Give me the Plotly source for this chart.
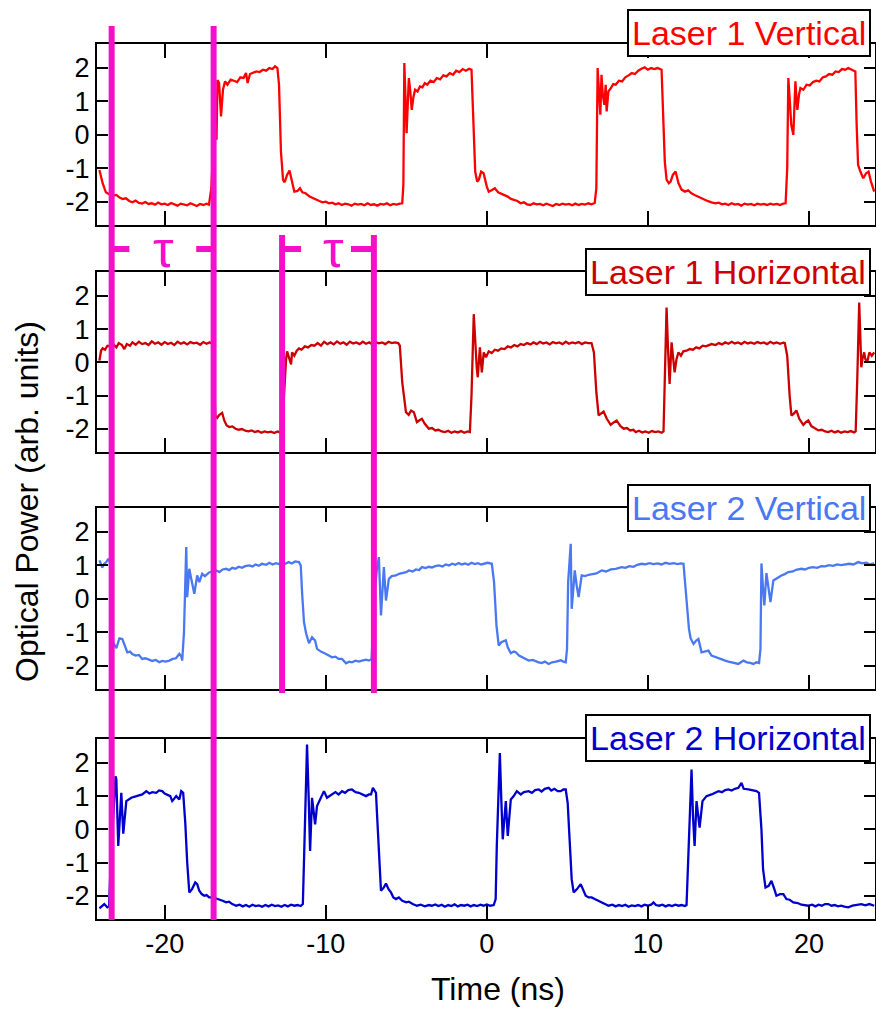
import plotly.graph_objects as go

# ---------------- data (time in ns, optical power in arb. units) ----------------
t_l1v = [-24.05,-23.85,-23.65,-23.45,-23.2,-23.0,-22.8,-22.6,-22.4,-22.2,-22.0,-21.8,-21.6,-21.4,-21.2,-21.0,
         -20.8,-20.6,-20.4,-20.2,-20.0,-19.8,-19.6,-19.4,-19.2,-19.0,-18.8,-18.6,-18.4,-18.2,-18.0,-17.8,-17.6,
         -17.4,-17.25,-17.1,-16.95,-16.85,-16.78,-16.72,-16.62,-16.5,-16.38,-16.25,-16.1,-15.9,-15.7,-15.5,-15.3,
         -15.1,-14.95,-14.85,-14.7,-14.5,-14.3,-14.1,-13.9,-13.7,-13.5,-13.3,-13.15,-13.0,-12.9,-12.78,-12.65,
         -12.55,-12.4,-12.25,-12.1,-11.95,-11.75,-11.6,-11.45,-11.25,-11.0,-10.8,-10.6,-10.4,-10.2,-10.0,-9.8,
         -9.6,-9.4,-9.2,-9.0,-8.8,-8.6,-8.4,-8.2,-8.0,-7.8,-7.6,-7.4,-7.2,-7.0,-6.8,-6.6,-6.4,-6.2,-6.0,-5.8,
         -5.6,-5.4,-5.25,-5.18,-5.12,-5.04,-4.98,-4.9,-4.84,-4.75,-4.66,-4.55,-4.45,-4.3,-4.15,-4.0,-3.85,-3.7,
         -3.5,-3.3,-3.1,-2.9,-2.7,-2.5,-2.3,-2.1,-1.9,-1.7,-1.5,-1.3,-1.1,-0.95,-0.85,-0.72,-0.6,-0.5,-0.35,
         -0.2,0.0,0.12,0.3,0.5,0.7,0.9,1.1,1.3,1.5,1.7,1.9,2.1,2.3,2.5,2.7,2.9,3.1,3.3,3.5,3.7,3.9,4.1,4.3,
         4.5,4.7,4.9,5.1,5.3,5.5,5.7,5.9,6.1,6.3,6.5,6.7,6.8,6.88,6.97,7.05,7.12,7.2,7.3,7.38,7.44,7.55,7.7,
         7.85,8.0,8.2,8.4,8.6,8.8,9.0,9.2,9.4,9.6,9.8,10.0,10.2,10.4,10.6,10.85,10.95,11.05,11.16,11.3,11.41,
         11.55,11.72,11.9,12.09,12.3,12.5,12.7,12.9,13.1,13.3,13.5,13.7,13.95,14.2,14.4,14.6,14.8,15.0,15.2,
         15.4,15.6,15.8,16.0,16.2,16.4,16.6,16.8,17.0,17.2,17.4,17.6,17.8,18.0,18.2,18.4,18.55,18.65,18.72,
         18.8,18.9,19.03,19.1,19.16,19.22,19.28,19.38,19.47,19.65,19.85,20.05,20.25,20.45,20.65,20.85,21.05,
         21.25,21.45,21.65,21.85,22.05,22.25,22.44,22.7,22.88,22.96,23.05,23.19,23.37,23.55,23.7,23.85,24.05]
y_l1v = [-1.05,-1.45,-1.72,-1.78,-1.82,-1.80,-1.88,-1.92,-1.90,-1.98,-2.02,-1.97,-2.04,-2.06,-2.01,-2.07,
         -2.05,-2.09,-2.03,-2.08,-2.06,-2.10,-2.04,-2.09,-2.12,-2.06,-2.08,-2.11,-2.05,-2.09,-2.13,-2.07,-2.10,
         -2.06,-2.09,-1.6,0.2,1.0,-0.15,1.64,1.55,0.55,1.35,1.6,1.5,1.65,1.62,1.58,1.72,
         1.70,1.85,1.55,1.82,1.86,1.90,1.88,1.95,1.92,2.0,1.97,2.05,2.0,1.5,-0.5,-1.35,
         -1.42,-1.2,-1.07,-1.35,-1.70,-1.68,-1.60,-1.72,-1.75,-1.85,-1.90,-1.95,-1.98,-2.02,-2.00,-2.05,
         -2.03,-2.08,-2.05,-2.10,-2.06,-2.08,-2.12,-2.06,-2.09,-2.07,-2.11,-2.05,-2.10,-2.08,-2.12,-2.07,-2.09,-2.05,-2.11,-2.07,
         -2.09,-2.06,-2.05,-1.5,2.15,1.0,0.05,1.0,1.7,1.3,0.75,1.15,1.35,1.30,1.45,1.42,1.55,1.50,
         1.62,1.58,1.70,1.66,1.78,1.75,1.85,1.80,1.92,1.88,1.97,1.92,1.98,1.95,0.5,-1.1,-1.4,-1.35,-1.1,
         -1.15,-1.55,-1.70,-1.66,-1.60,-1.72,-1.76,-1.82,-1.85,-1.92,-1.95,-1.98,-2.05,-2.02,-2.08,-2.10,-2.05,-2.08,-2.07,-2.11,-2.06,-2.09,-2.13,-2.07,
         -2.10,-2.06,-2.09,-2.07,-2.11,-2.06,-2.10,-2.07,-2.09,-2.05,-2.08,-2.04,-1.6,2.0,1.0,0.6,1.8,1.2,0.9,1.5,0.7,1.3,1.40,
         1.52,1.50,1.62,1.60,1.72,1.78,1.85,1.82,1.92,1.98,2.02,1.95,2.0,1.97,2.0,1.95,0.5,-0.8,-1.34,-1.45,-1.4,
         -1.2,-1.1,-1.45,-1.64,-1.70,-1.66,-1.75,-1.80,-1.85,-1.90,-1.93,-1.98,-2.02,-2.05,-2.03,-2.08,-2.06,-2.10,-2.05,
         -2.09,-2.07,-2.12,-2.06,-2.09,-2.07,-2.11,-2.06,-2.09,-2.07,-2.10,-2.06,-2.09,-2.07,-2.10,-2.06,-2.05,-1.0,1.7,
         1.1,0.3,0.0,1.0,1.6,1.1,0.75,1.2,1.40,1.35,1.50,1.48,1.58,1.62,1.60,1.72,1.75,
         1.82,1.80,1.90,1.88,1.97,1.95,2.0,1.93,1.9,0.3,-0.9,-1.1,-1.3,-1.15,-1.1,-1.4,-1.7]

t_l1h = [-24.05,-23.95,-23.85,-23.7,-23.55,-23.4,-23.2,-23.0,-22.85,-22.65,-22.5,-22.35,-22.15,-22.0,-21.8,
         -21.6,-21.4,-21.2,-21.0,-20.8,-20.6,-20.4,-20.2,-20.0,-19.8,-19.6,-19.4,-19.2,-19.0,-18.8,-18.6,-18.4,
         -18.2,-18.0,-17.8,-17.6,-17.4,-17.2,-17.05,-16.95,-16.85,-16.74,-16.6,-16.43,-16.3,-16.15,-15.99,-15.8,
         -15.6,-15.4,-15.2,-15.0,-14.8,-14.6,-14.4,-14.2,-14.0,-13.8,-13.6,-13.4,-13.2,-13.0,-12.85,-12.72,
         -12.62,-12.52,-12.46,-12.40,-12.28,-12.15,-12.09,-11.95,-11.8,-11.66,-11.5,-11.3,-11.1,-10.9,-10.7,
         -10.5,-10.3,-10.1,-9.9,-9.7,-9.5,-9.3,-9.1,-8.9,-8.7,-8.5,-8.3,-8.1,-7.9,-7.7,-7.5,-7.3,-7.1,-6.9,
         -6.7,-6.5,-6.3,-6.1,-5.9,-5.7,-5.5,-5.4,-5.25,-5.1,-5.02,-4.85,-4.7,-4.53,-4.34,-4.2,-4.03,-3.85,-3.6,
         -3.4,-3.2,-3.0,-2.8,-2.6,-2.4,-2.2,-2.0,-1.8,-1.6,-1.4,-1.2,-1.05,-0.95,-0.81,-0.72,-0.62,-0.56,-0.48,
         -0.43,-0.36,-0.31,-0.25,-0.19,-0.05,0.12,0.3,0.5,0.7,0.9,1.1,1.3,1.5,1.7,1.9,2.1,2.3,2.5,2.7,2.9,
         3.1,3.3,3.5,3.7,3.9,4.1,4.3,4.5,4.7,4.9,5.1,5.3,5.5,5.7,5.9,6.1,6.3,6.5,6.65,6.8,6.94,7.1,7.25,7.45,
         7.69,7.9,8.06,8.3,8.5,8.7,8.9,9.1,9.24,9.45,9.65,9.85,10.05,10.25,10.45,10.65,10.85,10.97,11.07,11.16,
         11.25,11.35,11.47,11.58,11.66,11.78,11.9,12.05,12.2,12.4,12.6,12.8,13.0,13.2,13.4,13.6,13.95,14.2,14.4,
         14.6,14.8,15.0,15.2,15.4,15.6,15.8,16.0,16.2,16.4,16.6,16.8,17.0,17.2,17.4,17.6,17.8,18.0,18.2,18.4,
         18.5,18.65,18.8,18.91,19.05,19.22,19.4,19.65,19.8,19.96,20.15,20.35,20.58,20.8,21.0,21.2,21.4,21.6,
         21.8,22.0,22.2,22.4,22.6,22.8,22.9,23.0,23.12,23.2,23.25,23.32,23.43,23.5,23.62,23.75,23.9,24.05]
y_l1h = [0.05,0.35,0.42,0.38,0.50,0.48,0.55,0.45,0.58,0.52,0.40,0.55,0.50,0.60,0.53,
         0.62,0.55,0.58,0.52,0.63,0.56,0.60,0.53,0.61,0.55,0.59,0.52,0.62,0.56,0.60,0.54,0.61,
         0.57,0.59,0.53,0.61,0.56,0.60,0.55,-0.8,-1.6,-1.67,-1.58,-1.52,-1.75,-1.90,-1.95,-1.93,
         -2.0,-2.03,-2.01,-2.06,-2.08,-2.05,-2.10,-2.07,-2.12,-2.08,-2.11,-2.09,-2.13,-2.08,-2.11,-2.1,
         -1.2,-0.5,0.1,0.33,0.1,-0.06,0.3,0.2,0.35,0.42,0.38,0.48,0.45,0.52,0.50,
         0.58,0.50,0.62,0.55,0.60,0.54,0.63,0.56,0.60,0.53,0.62,0.57,0.60,0.55,0.62,0.56,0.60,0.54,0.61,
         0.57,0.60,0.55,0.62,0.58,0.60,0.58,0.5,-0.6,-1.3,-1.5,-1.58,-1.45,-1.5,-1.8,-1.75,-1.7,-1.85,-2.0,
         -1.98,-2.05,-2.03,-2.08,-2.10,-2.06,-2.12,-2.08,-2.11,-2.07,-2.12,-2.08,-2.10,-1.0,1.45,0.5,-0.2,-0.45,0.2,
         0.45,0.0,-0.3,0.0,0.3,0.15,0.33,0.28,0.38,0.35,0.42,0.40,0.48,0.45,0.52,0.48,0.55,0.52,0.58,0.54,0.60,
         0.55,0.62,0.57,0.60,0.54,0.61,0.57,0.60,0.55,0.62,0.56,0.60,0.57,0.61,0.55,0.60,0.58,0.58,0.3,-0.9,-1.6,-1.55,-1.48,-1.7,
         -1.88,-1.8,-1.75,-1.92,-2.0,-1.98,-2.05,-2.03,-2.10,-2.06,-2.11,-2.08,-2.12,-2.07,-2.10,-2.08,-2.12,-2.08,-0.5,1.65,
         0.4,-0.65,0.6,0.0,-0.3,0.1,0.3,0.2,0.33,0.35,0.40,0.38,0.45,0.42,0.50,0.48,0.55,0.52,0.58,
         0.54,0.60,0.56,0.62,0.57,0.60,0.55,0.62,0.57,0.60,0.56,0.61,0.57,0.60,0.55,0.62,0.57,0.60,0.56,0.59,
         0.58,0.2,-1.0,-1.6,-1.55,-1.45,-1.7,-1.88,-1.80,-1.75,-1.92,-1.98,-2.05,-2.03,-2.08,-2.10,-2.06,-2.11,
         -2.07,-2.12,-2.08,-2.10,-2.07,-2.11,-2.08,-0.5,1.8,0.6,-0.15,0.1,0.3,0.1,0.0,0.3,0.2,0.3]

t_l2v = [-24.05,-23.87,-23.75,-23.62,-23.5,-23.4,-23.3,-23.2,-23.0,-22.81,-22.63,-22.45,-22.32,-22.15,-22.01,
         -21.8,-21.6,-21.39,-21.2,-20.97,-20.77,-20.55,-20.33,-20.15,-19.95,-19.71,-19.5,-19.3,-19.09,-18.97,
         -18.91,-18.80,-18.72,-18.66,-18.60,-18.47,-18.35,-18.16,-17.98,-17.85,-17.67,-17.5,-17.24,-17.0,-16.8,
         -16.6,-16.4,-16.18,-16.0,-15.8,-15.6,-15.4,-15.2,-15.0,-14.75,-14.55,-14.35,-14.15,-13.95,-13.70,-13.5,
         -13.3,-13.1,-12.9,-12.7,-12.5,-12.3,-12.1,-11.9,-11.66,-11.55,-11.47,-11.35,-11.22,-11.04,-10.85,-10.66,
         -10.54,-10.3,-9.98,-9.8,-9.61,-9.4,-9.2,-8.99,-8.74,-8.55,-8.37,-8.15,-7.94,-7.75,-7.5,-7.32,-7.15,-7.0,
         -6.82,-6.70,-6.57,-6.39,-6.26,-6.08,-5.9,-5.64,-5.45,-5.2,-5.0,-4.84,-4.6,-4.4,-4.2,-4.03,-3.8,-3.6,
         -3.4,-3.2,-2.98,-2.75,-2.55,-2.35,-2.15,-1.95,-1.75,-1.55,-1.35,-1.15,-0.95,-0.75,-0.55,-0.35,-0.15,
         0.05,0.31,0.45,0.6,0.74,0.9,1.18,1.3,1.49,1.67,1.80,2.0,2.17,2.4,2.60,2.85,3.05,3.22,3.41,3.6,3.84,
         4.05,4.3,4.59,4.75,4.90,4.98,5.05,5.21,5.27,5.39,5.46,5.58,5.70,5.89,6.1,6.32,6.55,6.8,7.13,7.4,7.7,
         8.0,8.37,8.6,8.85,9.1,9.35,9.61,9.85,10.1,10.35,10.6,10.85,11.1,11.35,11.6,11.85,12.05,12.21,12.4,
         12.55,12.65,12.83,13.0,13.14,13.33,13.55,13.76,13.95,14.2,14.4,14.57,14.8,15.0,15.19,15.4,15.62,15.93,
         16.15,16.35,16.55,16.74,16.9,16.99,17.05,17.15,17.23,17.36,17.5,17.61,17.79,18.0,18.29,18.5,18.72,19.0,
         19.2,19.53,19.75,20.0,20.25,20.5,20.77,21.0,21.25,21.5,21.75,22.0,22.26,22.5,22.75,23.06,23.3,23.55,
         23.8,24.05]
y_l2v = [1.15,0.94,1.05,1.10,1.20,1.1,-0.5,-1.3,-1.48,-1.18,-1.20,-1.45,-1.60,-1.58,-1.65,
         -1.70,-1.68,-1.80,-1.78,-1.82,-1.86,-1.83,-1.90,-1.86,-1.88,-1.85,-1.80,-1.78,-1.65,-1.72,
         -1.85,-1.0,0.5,1.55,0.05,0.9,0.6,0.15,0.70,0.50,0.75,0.68,0.79,0.82,0.85,
         0.80,0.88,0.90,0.86,0.93,0.90,0.96,0.93,0.98,1.00,0.97,1.03,0.99,1.05,1.02,1.08,
         1.03,1.07,1.04,1.09,1.05,1.10,1.06,1.12,1.10,1.0,0.2,-0.7,-1.03,-1.33,-1.15,-1.25,
         -1.50,-1.58,-1.65,-1.70,-1.75,-1.73,-1.80,-1.80,-1.93,-1.88,-1.90,-1.85,-1.88,-1.85,-1.82,-1.85,-1.80,0.0,
         0.9,1.25,-0.5,0.95,-0.05,0.6,0.68,0.70,0.75,0.78,0.80,0.85,0.82,0.88,0.86,0.95,0.92,0.96,
         0.94,0.98,1.00,0.97,1.03,1.00,1.05,1.02,1.07,1.03,1.06,1.02,1.08,1.04,1.07,1.03,1.06,
         1.08,1.05,0.5,-0.8,-1.40,-1.30,-1.24,-1.45,-1.63,-1.58,-1.60,-1.70,-1.75,-1.80,-1.85,-1.83,-1.88,-1.90,-1.92,-1.88,-1.95,
         -1.90,-1.88,-1.84,-1.88,-1.90,-1.5,0.5,1.65,-0.3,0.4,0.85,0.4,0.05,0.70,0.68,0.72,0.74,0.76,0.85,0.82,0.88,
         0.90,0.95,0.93,0.98,0.96,1.02,1.05,1.03,1.07,1.04,1.06,1.03,1.08,1.05,1.07,1.04,1.06,1.05,0.0,
         -0.9,-1.18,-1.35,-1.25,-1.20,-1.60,-1.57,-1.55,-1.70,-1.75,-1.78,-1.80,-1.85,-1.88,-1.90,-1.92,-1.95,-1.85,
         -1.90,-1.92,-1.95,-1.90,-1.92,-1.5,1.06,0.3,-0.2,0.77,0.3,-0.1,0.55,0.62,0.70,0.74,0.80,0.82,
         0.87,0.90,0.88,0.93,0.95,0.93,0.98,0.97,1.01,0.99,1.03,1.01,1.03,1.05,1.03,1.10,1.06,1.08,
         1.03,1.06]

t_l2h = [-24.05,-23.85,-23.75,-23.56,-23.45,-23.35,-23.2,-23.05,-23.0,-22.88,-22.69,-22.57,-22.38,-22.2,-22.07,
         -21.9,-21.76,-21.55,-21.39,-21.14,-20.95,-20.77,-20.52,-20.35,-20.15,-20.0,-19.84,-19.65,-19.53,-19.4,
         -19.28,-19.09,-18.97,-18.85,-18.72,-18.6,-18.47,-18.3,-18.1,-17.98,-17.85,-17.7,-17.54,-17.4,-17.24,
         -17.0,-16.8,-16.62,-16.4,-16.18,-16.0,-15.8,-15.56,-15.35,-15.15,-14.95,-14.75,-14.55,-14.35,-14.15,
         -13.95,-13.75,-13.55,-13.35,-13.15,-12.95,-12.75,-12.55,-12.35,-12.15,-11.95,-11.75,-11.55,-11.42,
         -11.35,-11.25,-11.16,-11.05,-10.97,-10.85,-10.75,-10.66,-10.54,-10.4,-10.29,-10.11,-9.92,-9.75,-9.61,
         -9.4,-9.2,-8.99,-8.8,-8.6,-8.37,-8.15,-7.94,-7.75,-7.5,-7.32,-7.19,-7.07,-6.88,-6.82,-6.7,-6.57,-6.39,
         -6.26,-6.1,-5.95,-5.8,-5.64,-5.46,-5.25,-5.0,-4.84,-4.6,-4.34,-4.1,-3.85,-3.6,-3.41,-3.2,-3.0,-2.8,
         -2.6,-2.4,-2.2,-2.0,-1.8,-1.6,-1.4,-1.2,-1.0,-0.8,-0.6,-0.4,-0.2,0.0,0.2,0.43,0.55,0.62,0.72,0.81,
         0.9,0.99,1.18,1.30,1.49,1.67,1.86,2.0,2.11,2.3,2.60,2.8,3.0,3.22,3.4,3.6,3.84,4.0,4.2,4.4,4.59,4.75,
         4.90,5.02,5.15,5.27,5.39,5.6,5.83,6.0,6.14,6.32,6.51,6.7,6.94,7.2,7.56,7.8,8.0,8.2,8.4,8.6,8.8,9.0,
         9.2,9.4,9.6,9.8,10.0,10.2,10.35,10.5,10.7,10.9,11.1,11.3,11.5,11.7,11.9,12.1,12.3,12.40,12.5,12.6,
         12.71,12.8,12.90,13.02,13.12,13.21,13.39,13.64,13.95,14.15,14.38,14.6,14.8,15.0,15.2,15.4,15.62,15.81,
         15.95,16.24,16.5,16.74,16.9,17.05,17.15,17.30,17.5,17.67,17.85,17.98,18.2,18.41,18.6,18.8,19.03,19.3,
         19.53,19.96,20.2,20.4,20.6,20.8,21.0,21.20,21.4,21.6,21.8,22.0,22.2,22.44,22.7,22.9,23.25,23.5,23.75,
         24.05]
y_l2h = [-2.38,-2.30,-2.25,-2.35,-2.32,-1.0,0.5,1.6,1.5,-0.5,1.1,-0.13,0.85,0.92,0.95,
         0.98,1.00,1.03,1.05,1.15,1.08,1.12,1.10,1.17,1.15,1.08,1.05,1.0,0.85,0.95,
         1.00,0.90,1.15,1.10,0.2,-1.0,-1.90,-1.80,-1.60,-1.65,-1.85,-1.95,-2.00,-1.98,-2.05,
         -2.05,-2.08,-2.10,-2.15,-2.20,-2.18,-2.25,-2.30,-2.27,-2.32,-2.28,-2.33,-2.27,-2.31,-2.29,
         -2.33,-2.28,-2.32,-2.27,-2.31,-2.29,-2.33,-2.28,-2.32,-2.27,-2.30,-2.28,-2.31,-2.25,
         -1.0,1.2,2.55,0.8,-0.65,0.95,0.5,0.15,0.70,0.85,0.95,1.15,0.95,1.0,1.05,
         1.12,1.05,1.15,1.10,1.18,1.20,1.12,1.10,1.05,1.00,1.05,1.05,1.25,1.10,0.5,-0.8,-1.85,-1.75,
         -1.63,-1.80,-1.90,-2.05,-2.10,-2.05,-2.15,-2.20,-2.18,-2.25,-2.30,-2.27,-2.32,-2.28,-2.30,-2.26,-2.31,-2.27,
         -2.33,-2.28,-2.31,-2.26,-2.32,-2.28,-2.30,-2.27,-2.32,-2.28,-2.31,-2.27,-2.30,-2.26,-2.30,-2.28,-2.1,-0.5,1.0,2.3,
         0.9,-0.3,0.85,-0.2,0.9,1.00,1.15,1.08,1.05,1.12,1.15,1.10,1.18,1.20,1.14,1.22,1.25,1.17,1.22,1.15,1.15,1.20,
         1.20,0.8,-0.6,-1.5,-1.90,-1.80,-1.65,-1.85,-2.00,-2.05,-2.05,-2.10,-2.15,-2.22,-2.30,-2.27,-2.32,-2.28,-2.31,-2.27,-2.33,-2.29,
         -2.31,-2.28,-2.32,-2.27,-2.30,-2.27,-2.20,-2.28,-2.30,-2.27,-2.32,-2.28,-2.31,-2.27,-2.30,-2.28,-2.31,-2.28,-1.0,0.8,
         1.8,0.4,-0.5,0.85,0.4,0.05,0.85,1.00,1.05,1.10,1.15,1.12,1.18,1.20,1.17,1.22,1.25,1.40,
         1.22,1.20,1.18,1.15,1.10,0.0,-1.2,-1.75,-1.70,-1.55,-1.80,-2.00,-1.95,-1.95,-2.10,-2.12,-2.20,-2.22,
         -2.27,-2.30,-2.27,-2.32,-2.27,-2.30,-2.25,-2.25,-2.30,-2.28,-2.32,-2.30,-2.33,-2.35,-2.30,-2.28,-2.25,-2.29,-2.25,
         -2.30]

series_names = ["Laser 1 Vertical", "Laser 1 Horizontal", "Laser 2 Vertical", "Laser 2 Horizontal"]
series_colors = ["#FF0000", "#CC0000", "#4A78F2", "#0000CC"]
series_t = [t_l1v, t_l1h, t_l2v, t_l2h]
series_y = [y_l1v, y_l1h, y_l2v, y_l2h]

x_ticks = [-20, -10, 0, 10, 20]
x_ticktext = ["-20", "-10", "0", "10", "20"]
y_ticks = [-2, -1, 0, 1, 2]
y_ticktext = ["-2", "-1", "0", "1", "2"]

# delay markers (ns)
tau_long = [-23.29, -16.96]    # span all four panels
tau_short = [-12.71, -7.01]    # span panels 2-3

# ---------------- figure ----------------
W, H = 876, 1010
ML, MR = 97, 1

def py(p):  # pixel row -> paper y (margins t=b=0)
    return 1 - p / H

panel_px = [(44, 225), (272, 452), (508, 689), (739, 919)]
fig = go.Figure()

for i in range(4):
    ax = "" if i == 0 else str(i + 1)
    fig.add_trace(go.Scatter(x=series_t[i], y=series_y[i], mode="lines",
                             line=dict(color=series_colors[i], width=2.3),
                             xaxis="x" + ax, yaxis="y" + ax, showlegend=False))

FONT = "Liberation Sans, Arial, sans-serif"
axis_common = dict(showline=True, linecolor="black", linewidth=2, mirror="ticks",
                   ticks="inside", tickcolor="black", tickwidth=2, showgrid=False,
                   zeroline=False)
layout = dict(width=W, height=H, margin=dict(l=ML, r=MR, t=0, b=0),
              paper_bgcolor="white", plot_bgcolor="white",
              font=dict(family=FONT, color="black", size=27), showlegend=False)
for i in range(4):
    ax = "" if i == 0 else str(i + 1)
    top, bot = panel_px[i]
    layout["xaxis" + ax] = dict(axis_common, range=[-24.2, 24.1], tickvals=x_ticks,
                                ticktext=x_ticktext,
                                ticklen=14, showticklabels=(i == 3),
                                anchor="y" + ax, tickfont=dict(size=27),
                                **({} if i == 3 else {"matches": "x4"}))
    layout["yaxis" + ax] = dict(axis_common, range=[-2.7, 2.72], tickvals=y_ticks,
                                ticktext=y_ticktext,
                                ticklen=11, domain=[py(bot), py(top)],
                                anchor="x" + ax, tickfont=dict(size=27))
fig.update_layout(**layout)

MAG = "#F40FCB"
shapes = []
for tx in tau_long:
    shapes.append(dict(type="line", xref="x4", yref="paper", x0=tx, x1=tx,
                       y0=py(920), y1=py(26), line=dict(color=MAG, width=6)))
for tx in tau_short:
    shapes.append(dict(type="line", xref="x4", yref="paper", x0=tx, x1=tx,
                       y0=py(693), y1=py(235), line=dict(color=MAG, width=6)))
# tau bracket stubs
stub_y = py(249)
for (a, b) in [(tau_long[0], -22.19), (-18.04, tau_long[1]),
               (tau_short[0], -11.53), (-8.43, tau_short[1])]:
    shapes.append(dict(type="line", xref="x4", yref="paper", x0=a, x1=b,
                       y0=stub_y, y1=stub_y, line=dict(color=MAG, width=6)))
fig.update_layout(shapes=shapes)

ann = []
for tx in [(tau_long[0] + tau_long[1]) / 2 + 0.05, (tau_short[0] + tau_short[1]) / 2 + 0.35]:
    ann.append(dict(x=tx, y=py(249), xref="x4", yref="paper", text="τ", showarrow=False,
                    font=dict(family=FONT, size=52, color=MAG),
                    xanchor="center", yanchor="middle"))

box_tops = [9, 248, 484, 714]
plot_w = W - ML - MR
for i in range(4):
    ann.append(dict(x=(871 - ML) / plot_w, y=py(box_tops[i]), xref="paper", yref="paper",
                    text=series_names[i], showarrow=False, xanchor="right", yanchor="top",
                    font=dict(family=FONT, size=34, color=series_colors[i]),
                    bgcolor="white", bordercolor="black", borderwidth=2, borderpad=3))

ann.append(dict(x=(27 - ML) / plot_w, y=py(502), xref="paper", yref="paper",
                text="Optical Power (arb. units)", textangle=-90, showarrow=False,
                xanchor="center", yanchor="middle", font=dict(family=FONT, size=32)))
ann.append(dict(x=(498 - ML) / plot_w, y=py(989), xref="paper", yref="paper",
                text="Time (ns)", showarrow=False, xanchor="center", yanchor="middle",
                font=dict(family=FONT, size=32)))
fig.update_layout(annotations=ann)

fig.write_html("out.html")
